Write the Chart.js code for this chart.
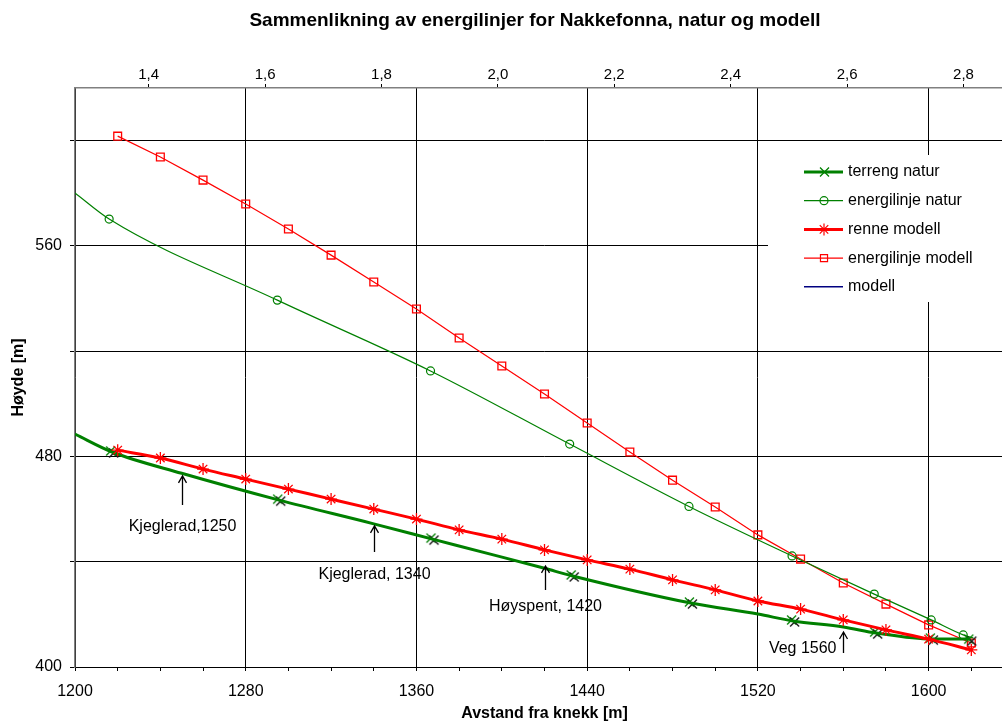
<!DOCTYPE html>
<html>
<head>
<meta charset="utf-8">
<script src="https://cdn.jsdelivr.net/npm/chart.js@4.4.1/dist/chart.umd.min.js"></script>
<style>
  body { margin: 0; background: #fff; }
  #wrap { width: 1002px; height: 722px; overflow: hidden; }
</style>
</head>
<body>
<div id="wrap"><canvas id="chart" width="1070" height="722"></canvas></div>
<script>
// bottom axis ticks every 20 m, labels every 80 m
const xTickValues = [1200, 1220, 1240, 1260, 1280, 1300, 1320, 1340, 1360, 1380, 1400, 1420,
  1440, 1460, 1480, 1500, 1520, 1540, 1560, 1580, 1600, 1620, 1640];
const xLabelValues = [1200, 1280, 1360, 1440, 1520, 1600];
const yTickValues = [400, 440, 480, 520, 560, 600];
const yLabelValues = [400, 480, 560];
const topTickValues = [1.4, 1.6, 1.8, 2.0, 2.2, 2.4, 2.6, 2.8];
const topTickLabels = ["1,4", "1,6", "1,8", "2,0", "2,2", "2,4", "2,6", "2,8"];

// terreng natur (line, markers separately)
const terrengX = [1200, 1217.4, 1250, 1295.7, 1340, 1367.5, 1396, 1420, 1433.2, 1488.6, 1520, 1536.5, 1560, 1575.4, 1601.5, 1619.5];
const terrengY = [488.5, 481.7, 473.6, 463.4, 454.4, 448.6, 442.6, 437.5, 434.6, 424.3, 420.1, 417.5, 415.2, 412.9, 410.6, 410.6];
const terrengMarkX = [1217.4, 1295.7, 1367.5, 1433.2, 1488.6, 1536.5, 1575.4, 1601.5, 1619.5];
const terrengMarkY = [481.7, 463.4, 448.6, 434.6, 424.3, 417.5, 412.9, 410.6, 410.2];

// energilinje natur
const energiNaturX = [1200, 1216, 1294.8, 1366.6, 1431.8, 1487.7, 1536, 1574.5, 1601.2, 1616.2, 1621];
const energiNaturY = [580.1, 570.2, 539.4, 512.5, 484.7, 461.0, 442.2, 427.7, 417.9, 412.2, 411.0];

// modell series share the same stations
const modellX = [1220, 1240, 1260, 1280, 1300, 1320, 1340, 1360, 1380, 1400, 1420,
  1440, 1460, 1480, 1500, 1520, 1540, 1560, 1580, 1600, 1620];
const renneY = [482.4, 479.4, 475.2, 471.4, 467.6, 463.8, 460.0, 456.2, 452.1, 448.6, 444.5,
  440.7, 437.2, 433.1, 429.3, 425.1, 422.0, 417.9, 414.1, 410.6, 406.5];
const energiModellY = [601.7, 593.8, 585.0, 575.9, 566.4, 556.5, 546.3, 536.0, 525.0, 514.4, 503.7,
  492.7, 481.7, 471.0, 460.8, 450.2, 441.0, 431.9, 423.9, 416.0, 409.1];

const annotations = [
  { x: 1250, y: 472.6, text: "Kjeglerad,1250", len: 29, dy: 51, side: "below" },
  { x: 1340, y: 453.6, text: "Kjeglerad, 1340", len: 26, dy: 49, side: "below" },
  { x: 1420, y: 438.4, text: "Høyspent, 1420", len: 24, dy: 41, side: "below" },
  { x: 1560, y: 413.3, text: "Veg 1560", len: 21, dy: 17, side: "left" },
];

const GREEN = "#008000";
const RED = "#ff0000";
const BLUE = "#000080";
const FONT = "'Liberation Sans', Arial, sans-serif";

Chart.defaults.font.family = FONT;
Chart.defaults.color = "#000";

const zip = (xs, ys) => xs.map((x, i) => ({ x: x, y: ys[i] }));

function xMarker() {
  const c = document.createElement("canvas");
  c.width = 18;
  c.height = 16;
  const g = c.getContext("2d");
  g.lineWidth = 1.3;
  const cross = (cx, cy, col) => {
    g.strokeStyle = col;
    g.beginPath();
    g.moveTo(cx - 4.5, cy - 4.5);
    g.lineTo(cx + 4.5, cy + 4.5);
    g.moveTo(cx + 4.5, cy - 4.5);
    g.lineTo(cx - 4.5, cy + 4.5);
    g.stroke();
  };
  cross(7.5, 7, GREEN);
  cross(10.5, 9, "#111");
  return c;
}
const xImg = xMarker();

const legendItems = [
  { label: "terreng natur", color: GREEN, width: 3, style: "x" },
  { label: "energilinje natur", color: GREEN, width: 1.2, style: "circle" },
  { label: "renne modell", color: RED, width: 3, style: "star" },
  { label: "energilinje modell", color: RED, width: 1.2, style: "rect" },
  { label: "modell", color: BLUE, width: 1.5, style: null },
];

const boxLegend = {
  id: "boxLegend",
  afterDraw(chart) {
    const ctx = chart.ctx;
    ctx.save();
    ctx.fillStyle = "#fff";
    ctx.fillRect(768, 155, 260, 147);
    legendItems.forEach((item, i) => {
      const y = 172 + i * 28.7;
      ctx.strokeStyle = item.color;
      ctx.lineWidth = item.width;
      ctx.beginPath();
      ctx.moveTo(804, y);
      ctx.lineTo(843, y);
      ctx.stroke();
      if (item.style === "x") {
        ctx.strokeStyle = GREEN;
        ctx.lineWidth = 1.3;
        ctx.beginPath();
        ctx.moveTo(820, y - 4.5); ctx.lineTo(829, y + 4.5);
        ctx.moveTo(829, y - 4.5); ctx.lineTo(820, y + 4.5);
        ctx.stroke();
      } else if (item.style) {
        ctx.strokeStyle = item.color;
        ctx.fillStyle = "rgba(0,0,0,0)";
        ctx.lineWidth = 1.2;
        Chart.helpers.drawPoint(ctx, {
          pointStyle: item.style,
          radius: item.style === "rect" ? 5 : item.style === "star" ? 6 : 4,
          borderWidth: 1.2,
        }, 824, y);
      }
      ctx.fillStyle = "#000";
      ctx.font = "16px " + FONT;
      ctx.textBaseline = "middle";
      ctx.textAlign = "left";
      ctx.fillText(item.label, 848, y);
    });
    ctx.restore();
  },
};

const arrowNotes = {
  id: "arrowNotes",
  afterDatasetsDraw(chart) {
    const ctx = chart.ctx;
    const sx = chart.scales.x;
    const sy = chart.scales.y;
    ctx.save();
    ctx.strokeStyle = "#000";
    ctx.fillStyle = "#000";
    ctx.lineWidth = 1.3;
    ctx.font = "16px " + FONT;
    ctx.textBaseline = "middle";
    annotations.forEach((a) => {
      const px = Math.round(sx.getPixelForValue(a.x)) + 0.5;
      const py = sy.getPixelForValue(a.y);
      ctx.beginPath();
      ctx.moveTo(px, py + a.len);
      ctx.lineTo(px, py);
      ctx.moveTo(px - 4, py + 7);
      ctx.lineTo(px, py);
      ctx.lineTo(px + 4, py + 7);
      ctx.stroke();
      if (a.side === "left") {
        ctx.textAlign = "right";
        ctx.fillText(a.text, px - 7, py + a.dy);
      } else {
        ctx.textAlign = "center";
        ctx.fillText(a.text, px, py + a.dy);
      }
    });
    ctx.restore();
  },
};

new Chart(document.getElementById("chart"), {
  type: "line",
  data: {
    datasets: [
      {
        label: "renne modell",
        data: zip(modellX, renneY),
        borderColor: RED,
        borderWidth: 3,
        pointStyle: "star",
        pointRadius: 6,
        pointBorderColor: RED,
        pointBorderWidth: 1.3,
        cubicInterpolationMode: "monotone",
      },
      {
        label: "terreng natur",
        data: zip(terrengX, terrengY),
        borderColor: GREEN,
        borderWidth: 3,
        pointRadius: 0,
        cubicInterpolationMode: "monotone",
      },
      {
        label: "terreng natur punkter",
        data: zip(terrengMarkX, terrengMarkY),
        showLine: false,
        pointStyle: xImg,
        pointRadius: 6,
      },
      {
        label: "energilinje natur",
        data: zip(energiNaturX, energiNaturY),
        borderColor: GREEN,
        borderWidth: 1.2,
        pointStyle: "circle",
        pointRadius: (c) => (c.dataIndex === 0 || c.dataIndex === energiNaturX.length - 1 ? 0 : 4),
        pointBorderColor: GREEN,
        pointBackgroundColor: "rgba(0,0,0,0)",
        pointBorderWidth: 1.2,
        cubicInterpolationMode: "monotone",
      },
      {
        label: "energilinje modell",
        data: zip(modellX, energiModellY),
        borderColor: RED,
        borderWidth: 1.2,
        pointStyle: "rect",
        pointRadius: 5.5,
        pointBorderColor: RED,
        pointBackgroundColor: "rgba(0,0,0,0)",
        pointBorderWidth: 1.3,
      },
      {
        label: "modell",
        data: [],
        borderColor: BLUE,
        borderWidth: 1.5,
      },
    ],
  },
  options: {
    responsive: false,
    animation: false,
    layout: { padding: 0 },
    plugins: {
      legend: { display: false },
      tooltip: { enabled: false },
      title: {
        display: true,
        text: "Sammenlikning av energilinjer for Nakkefonna, natur og modell",
        font: { size: 19, weight: "bold", lineHeight: 1 },
        padding: { top: 11, bottom: 0 },
        color: "#000",
      },
    },
    scales: {
      x: {
        type: "linear",
        position: "bottom",
        min: 1200,
        max: 1640,
        afterBuildTicks: (s) => { s.ticks = xTickValues.map((v) => ({ value: v })); },
        afterFit: (s) => { s.height = 55; },
        grid: {
          color: (c) => (c.tick && xLabelValues.includes(c.tick.value) ? "#000" : "rgba(0,0,0,0)"),
          tickColor: "#000",
          tickLength: 4,
        },
        border: { color: "#000", width: 1 },
        ticks: {
          autoSkip: false,
          maxRotation: 0,
          padding: 11,
          font: { size: 16 },
          color: "#000",
          callback: (v) => (xLabelValues.includes(v) ? String(v) : ""),
        },
        title: {
          display: true,
          text: "Avstand fra knekk [m]",
          font: { size: 16, weight: "bold", lineHeight: 1 },
          padding: { top: 0, bottom: 0 },
          color: "#000",
        },
      },
      x2: {
        type: "linear",
        position: "top",
        min: 1.2734,
        max: 2.8868,
        afterBuildTicks: (s) => { s.ticks = topTickValues.map((v) => ({ value: v })); },
        afterFit: (s) => { s.height = 58; },
        grid: { drawOnChartArea: false, color: "#000", tickLength: 4 },
        border: { color: "#808080", width: 1.5 },
        ticks: {
          autoSkip: false,
          maxRotation: 0,
          padding: 0,
          font: { size: 15 },
          color: "#000",
          callback: (v, i) => topTickLabels[i],
        },
      },
      y: {
        type: "linear",
        min: 400,
        max: 620,
        afterBuildTicks: (s) => { s.ticks = yTickValues.map((v) => ({ value: v })); },
        afterFit: (s) => { s.width = 75; },
        grid: { color: "#000", tickLength: 5 },
        border: { color: "#808080", width: 1.5 },
        ticks: {
          autoSkip: false,
          padding: 8,
          font: { size: 16 },
          color: "#000",
          callback: (v) => (yLabelValues.includes(v) ? String(v) : ""),
        },
        title: {
          display: true,
          text: "Høyde [m]",
          font: { size: 16, weight: "bold", lineHeight: 1 },
          padding: { top: 11, bottom: 0 },
          color: "#000",
        },
      },
      yr: {
        type: "linear",
        position: "right",
        afterFit: (s) => { s.width = 56; },
        grid: { display: false },
        ticks: { display: false },
        border: { display: false },
      },
    },
  },
  plugins: [arrowNotes, boxLegend],
});
</script>
</body>
</html>
